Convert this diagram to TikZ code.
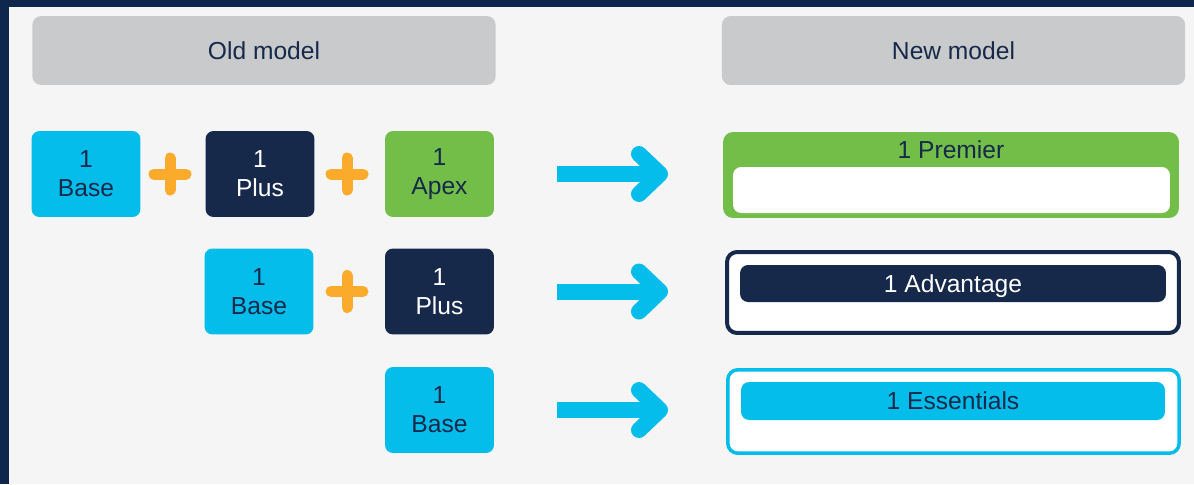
\documentclass[tikz,border=0pt]{standalone}
\usepackage{fontspec}
\setmainfont{Liberation Sans}
\usepackage{tikz}
\usetikzlibrary{positioning}
\definecolor{marino}{RGB}{13, 39, 77}
\definecolor{fondo}{RGB}{245, 245, 245}
\definecolor{gris}{RGB}{201, 202, 204}
\definecolor{cian}{RGB}{4, 189, 234}
\definecolor{tinta}{RGB}{22, 41, 74}
\definecolor{verde}{RGB}{115, 190, 72}
\definecolor{ambar}{RGB}{251, 171, 44}
\tikzset{
    hdr/.style={rectangle, rounded corners=0.18cm, fill=gris, text=tinta, minimum width=9.27cm, minimum height=1.38cm, text height=10pt, text depth=0pt},
    tile/.style={rectangle, rounded corners=0.16cm, align=center, inner sep=0pt, minimum width=2.18cm, minimum height=1.72cm},
    baseT/.style={tile, fill=cian, text=tinta},
    plusT/.style={tile, fill=tinta, text=white},
    apexT/.style={tile, fill=verde, text=tinta},
    tier/.style={rectangle, rounded corners=0.2cm, inner sep=0pt},
    bar/.style={rectangle, rounded corners=0.16cm, inner sep=0pt, text height=10pt, text depth=0pt},
    cross/.style={ambar, line width=0.22cm, line cap=round},
    shaft/.style={cian, line width=0.32cm},
    head/.style={cian, line width=0.32cm, line cap=round, line join=round},
}
\begin{document}
\begin{tikzpicture}[x=0.02cm, y=-0.02cm, font=\fontsize{14}{16.5}\selectfont]
    % marco y fondo
    \fill[marino] (0,0) rectangle (1194,484);
    \fill[fondo] (9,7) rectangle (1194,484);

    \node[hdr] (old) at (264,50.5) {Old model};
    \node[hdr] (new) at (953.5,50.5) {New model};

    % modelo viejo
    \node[baseT] (b1) at (86,174) {1\\Base};
    \node[plusT] (p1) at (260,174) {1\\Plus};
    \node[apexT] (a1) at (439.5,174) {1\\Apex};

    \node[baseT] (b2) at (259,291.5) {1\\Base};
    \node[plusT] (p2) at (439.5,291.5) {1\\Plus};

    \node[baseT] (b3) at (439.5,410) {1\\Base};

    \draw[cross] (170,158) -- (170,190) (154,174) -- (186,174);
    \draw[cross] (347,158) -- (347,190) (331,174) -- (363,174);
    \draw[cross] (347,275.5) -- (347,307.5) (331,291.5) -- (363,291.5);

    % flechas
    \coordinate (s1) at (557,174);
    \coordinate (t1) at (660,174);
    \coordinate (s2) at (557,291.5);
    \coordinate (t2) at (660,291.5);
    \coordinate (s3) at (557,410);
    \coordinate (t3) at (660,410);

    \draw[shaft] (s1) -- (t1);
    \draw[head] ([shift={(-21,-20)}]t1) -- (t1) -- ([shift={(-21,20)}]t1);
    \draw[shaft] (s2) -- (t2);
    \draw[head] ([shift={(-21,-20)}]t2) -- (t2) -- ([shift={(-21,20)}]t2);
    \draw[shaft] (s3) -- (t3);
    \draw[head] ([shift={(-21,-20)}]t3) -- (t3) -- ([shift={(-21,20)}]t3);

    % modelo nuevo
    \node[tier, fill=verde, minimum width=9.12cm, minimum height=1.72cm] (prem) at (951,175) {};
    \node[bar, fill=white, minimum width=8.74cm, minimum height=0.92cm] (premIn) at (951.5,190) {};
    \node[text=tinta, text height=10pt, text depth=0pt, inner sep=0pt] (premTxt) at (951,149.5) {1 Premier};

    \node[tier, draw=tinta, line width=0.08cm, fill=white, minimum width=9.04cm, minimum height=1.62cm] (adv) at (953,292.5) {};
    \node[bar, fill=tinta, text=white, minimum width=8.52cm, minimum height=0.74cm] (advIn) at (953,283.5) {1 Advantage};

    \node[tier, draw=cian, line width=0.07cm, fill=white, minimum width=9.03cm, minimum height=1.67cm] (ess) at (953.5,411.5) {};
    \node[bar, fill=cian, text=tinta, minimum width=8.48cm, minimum height=0.76cm] (essIn) at (953,401) {1 Essentials};
\end{tikzpicture}
\end{document}
